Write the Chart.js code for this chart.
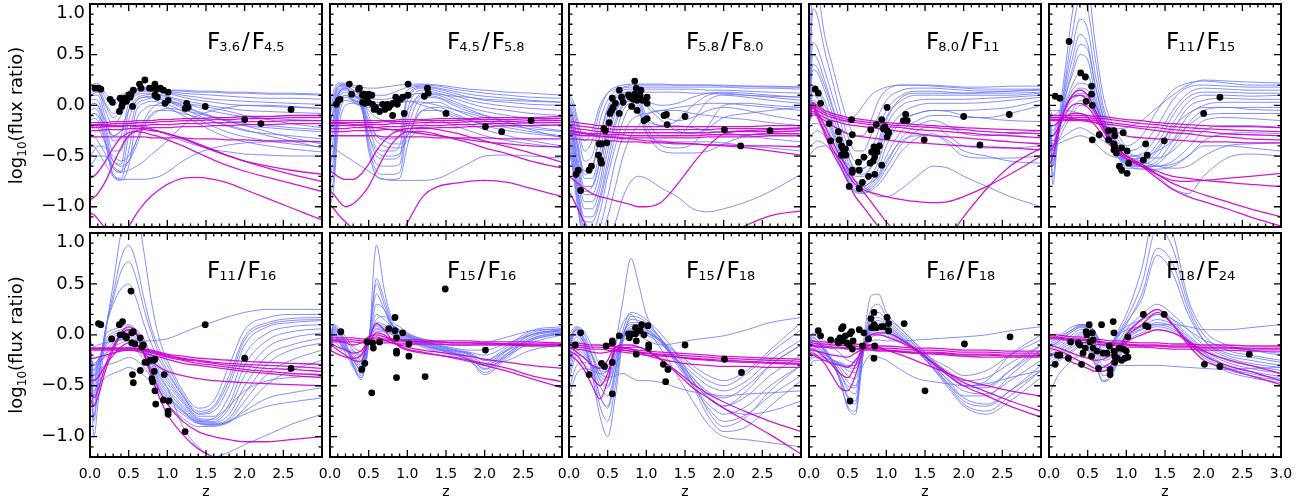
<!DOCTYPE html>
<html>
<head>
<meta charset="utf-8">
<script src="https://cdn.jsdelivr.net/npm/chart.js@4/dist/chart.umd.min.js"></script>
<style>
  html, body { margin: 0; padding: 0; background: #fff; }
  #wrap { position: relative; width: 1306px; height: 503px; overflow: hidden; }
  #wrap canvas { position: absolute; left: 0; top: 0; }
</style>
</head>
<body>
<div id="wrap"></div>
<script>
// redshift grid the model tracks are sampled on
const zGrid = [0, 0.05, 0.1, 0.2, 0.3, 0.4, 0.5, 0.6, 0.7, 0.8, 0.9, 1.0, 1.2, 1.4, 1.6, 1.8, 2.0, 2.3, 2.6, 3.0];
const xTicks = [0, 0.5, 1, 1.5, 2, 2.5, 3];
const yTicks = [-1, -0.5, 0, 0.5, 1];

// ---- F3.6/F4.5
const p1Blue = [
  [.20,.21,.22,.12,.05,.10,.14,.16,.17,.17,.16,.15,.14,.13,.13,.12,.12,.11,.11,.10],
  [.18,.19,.20,.08,.0,.06,.12,.15,.16,.16,.15,.14,.12,.11,.10,.09,.08,.07,.07,.06],
  [.15,.17,.18,.02,-.08,.0,.10,.14,.15,.15,.14,.13,.10,.08,.06,.05,.04,.03,.02,.01],
  [.12,.14,.15,-.05,-.2,-.1,.06,.12,.14,.14,.13,.12,.08,.05,.03,.01,.0,-.01,-.02,-.03],
  [.08,.10,.10,-.12,-.35,-.3,.02,.10,.12,.12,.11,.09,.05,.02,-.01,-.03,-.05,-.06,-.07,-.08],
  [.05,.06,.05,-.2,-.45,-.45,-.05,.07,.10,.11,.10,.08,.03,-.02,-.06,-.09,-.11,-.13,-.14,-.15],
  [.0,.02,.0,-.25,-.55,-.58,-.15,.04,.08,.09,.08,.06,.0,-.06,-.11,-.15,-.18,-.2,-.22,-.24],
  [-.05,-.03,-.05,-.3,-.62,-.66,-.3,.0,.05,.07,.06,.04,-.03,-.1,-.16,-.21,-.25,-.28,-.3,-.33],
  [-.1,-.08,-.1,-.35,-.68,-.72,-.45,-.05,.02,.04,.03,.01,-.06,-.14,-.21,-.27,-.31,-.35,-.38,-.41],
  [-.15,-.13,-.15,-.38,-.7,-.74,-.6,-.15,-.04,.0,.0,-.02,-.1,-.18,-.26,-.32,-.36,-.4,-.43,-.46],
  [-.2,-.2,-.22,-.38,-.55,-.6,-.55,-.4,-.2,-.08,-.05,-.05,-.08,-.12,-.16,-.2,-.24,-.3,-.35,-.42],
  [-.28,-.3,-.35,-.48,-.62,-.66,-.64,-.6,-.55,-.48,-.42,-.35,-.2,-.1,-.05,-.02,.0,.0,-.01,-.03],
  [-.38,-.4,-.45,-.58,-.7,-.73,-.73,-.73,-.73,-.72,-.7,-.66,-.55,-.47,-.42,-.39,-.37,-.36,-.36,-.36],
  [-.6,-.55,-.5,-.5,-.6,-.65,-.55,-.35,-.15,-.03,.02,.03,.02,.0,-.03,-.06,-.1,-.14,-.18,-.22],
  [.1,.12,.13,.0,-.12,-.05,.1,.16,.18,.17,.16,.15,.15,.14,.14,.13,.13,.12,.12,.11],
  [-.1,-.08,-.1,-.2,-.3,-.25,-.05,.05,.08,.08,.06,.04,-.01,-.07,-.12,-.16,-.2,-.22,-.24,-.26],
  [.0,.02,.0,-.15,-.3,-.25,-.18,-.18,-.2,-.23,-.26,-.29,-.35,-.4,-.44,-.46,-.48,-.49,-.5,-.5],
  [-.5,-.45,-.4,-.42,-.5,-.55,-.5,-.35,-.2,-.1,-.05,-.03,-.05,-.08,-.12,-.16,-.2,-.26,-.32,-.38]
];
const p1Magenta = [
  [-.17,-.17,-.17,-.17,-.16,-.16,-.16,-.15,-.15,-.15,-.14,-.14,-.13,-.13,-.12,-.12,-.11,-.11,-.1,-.1],
  [-.19,-.19,-.19,-.19,-.18,-.18,-.18,-.17,-.17,-.17,-.16,-.16,-.15,-.15,-.14,-.14,-.13,-.13,-.12,-.12],
  [-.22,-.22,-.22,-.21,-.21,-.21,-.2,-.2,-.2,-.19,-.19,-.19,-.18,-.18,-.17,-.17,-.16,-.16,-.15,-.15],
  [-.25,-.25,-.25,-.24,-.24,-.24,-.23,-.23,-.23,-.22,-.22,-.22,-.21,-.21,-.2,-.2,-.19,-.19,-.18,-.18],
  [-.31,-.31,-.31,-.31,-.31,-.31,-.31,-.31,-.31,-.32,-.32,-.32,-.32,-.33,-.33,-.34,-.34,-.35,-.35,-.36],
  [-.2,-.2,-.2,-.2,-.2,-.2,-.2,-.21,-.22,-.24,-.26,-.28,-.32,-.38,-.44,-.5,-.55,-.62,-.68,-.75],
  [-.72,-.7,-.66,-.55,-.42,-.32,-.27,-.26,-.27,-.29,-.31,-.34,-.4,-.47,-.54,-.6,-.65,-.71,-.77,-.85],
  [-.93,-.91,-.87,-.75,-.58,-.42,-.3,-.25,-.24,-.25,-.26,-.28,-.33,-.39,-.45,-.5,-.55,-.6,-.64,-.68],
  [-1.5,-1.5,-1.5,-1.5,-1.45,-1.35,-1.2,-1.07,-.97,-.89,-.83,-.78,-.72,-.71,-.73,-.77,-.83,-.92,-1.01,-1.13],
  [-1.06,-1.08,-1.12,-1.22,-1.35,-1.45,-1.5,-1.5,-1.5,-1.5,-1.5,-1.5,-1.5,-1.5,-1.5,-1.5,-1.5,-1.5,-1.5,-1.5]
];
const p1ObsZ = [.065,.11,.14,.26,.29,.38,.41,.42,.39,.45,.47,.5,.52,.53,.55,.56,.64,.66,.71,.77,.8,.84,.86,.84,.87,.91,.95,.97,1.01,1.01,1.23,1.25,1.27,1.49,2.0,2.21,2.6];
const p1ObsV = [.17,.17,.16,.06,.03,-.06,-.01,.02,.07,.07,.04,.1,.08,.11,-.01,.15,.21,.17,.25,.17,.17,.21,.16,.1,.08,.17,.15,.02,.13,.05,-.03,.02,-.02,-.01,-.14,-.18,-.04];

// ---- F4.5/F5.8
const p2Blue = [
  [.02,.15,.22,.22,.2,.18,.17,.17,.18,.19,.2,.21,.21,.2,.18,.16,.15,.13,.12,.1],
  [-.05,.1,.2,.21,.18,.15,.12,.1,.1,.12,.15,.18,.2,.19,.16,.14,.12,.1,.08,.07],
  [-.1,.05,.18,.2,.15,.1,.05,.03,.02,.03,.06,.15,.19,.17,.14,.11,.09,.07,.05,.03],
  [-.2,-.02,.15,.19,.12,.08,-.1,-.3,-.33,-.33,-.3,.1,.18,.16,.12,.08,.05,.03,.01,.0],
  [-.3,-.1,.12,.18,.1,.06,-.2,-.42,-.45,-.45,-.4,.05,.17,.14,.1,.05,.02,-.01,-.03,-.05],
  [-.4,-.2,.08,.17,.1,.05,-.28,-.5,-.53,-.53,-.5,-.05,.15,.12,.07,.02,-.02,-.05,-.08,-.1],
  [-.5,-.3,.05,.15,.08,.03,-.35,-.58,-.6,-.6,-.58,-.15,.12,.1,.04,-.02,-.06,-.1,-.13,-.15],
  [-.6,-.4,.0,.13,.06,.01,-.4,-.65,-.68,-.68,-.66,-.25,.08,.07,.0,-.06,-.1,-.15,-.18,-.2],
  [-.7,-.5,-.05,.1,.05,.0,-.45,-.7,-.73,-.73,-.72,-.4,.02,.03,-.04,-.1,-.15,-.2,-.23,-.26],
  [-.8,-.6,-.1,.08,.04,-.02,-.3,-.45,-.5,-.5,-.48,-.3,-.05,-.02,-.08,-.14,-.2,-.25,-.28,-.31],
  [-.9,-.7,-.2,.05,.03,.0,-.02,.0,.0,.0,.02,.04,.0,-.05,-.12,-.18,-.24,-.3,-.35,-.4],
  [-1.0,-.8,-.3,.0,.02,.0,.0,.01,.01,.02,.03,.04,.03,.0,-.04,-.08,-.12,-.17,-.21,-.25],
  [-.15,-.05,.1,.16,.1,.05,-.15,-.3,-.35,-.38,-.38,-.3,-.05,-.05,-.1,-.15,-.18,-.22,-.26,-.3],
  [-.4,-.42,-.45,-.5,-.55,-.6,-.65,-.7,-.73,-.74,-.74,-.74,-.74,-.72,-.65,-.57,-.5,-.49,-.5,-.52],
  [-.08,.05,.18,.2,.15,.12,.08,.06,.06,.07,.08,.1,.12,.11,.09,.08,.06,.05,.04,.03],
  [-.25,-.15,.1,.17,.1,.05,-.05,-.12,-.15,-.17,-.15,-.05,.1,.08,.02,-.04,-.1,-.17,-.24,-.32],
  [-.55,-.45,-.1,.1,.05,.0,-.2,-.35,-.4,-.42,-.42,-.35,-.2,-.15,-.2,-.25,-.3,-.35,-.38,-.42]
];
const p2Magenta = [
  [-.15,-.15,-.15,-.15,-.15,-.15,-.15,-.15,-.15,-.15,-.14,-.14,-.14,-.13,-.13,-.13,-.12,-.12,-.12,-.11],
  [-.17,-.17,-.17,-.17,-.17,-.17,-.17,-.17,-.16,-.16,-.16,-.16,-.15,-.15,-.15,-.14,-.14,-.14,-.13,-.13],
  [-.2,-.2,-.2,-.2,-.2,-.19,-.19,-.19,-.19,-.18,-.18,-.18,-.17,-.17,-.17,-.16,-.16,-.16,-.15,-.15],
  [-.23,-.23,-.23,-.23,-.22,-.22,-.22,-.22,-.21,-.21,-.21,-.2,-.2,-.2,-.19,-.19,-.18,-.18,-.17,-.17],
  [-.26,-.26,-.26,-.26,-.25,-.25,-.25,-.25,-.24,-.24,-.24,-.23,-.23,-.22,-.22,-.21,-.21,-.2,-.2,-.19],
  [-.3,-.3,-.3,-.3,-.3,-.3,-.3,-.3,-.31,-.31,-.31,-.31,-.31,-.32,-.32,-.32,-.32,-.33,-.33,-.33],
  [-.18,-.18,-.18,-.18,-.19,-.2,-.21,-.22,-.23,-.24,-.25,-.26,-.28,-.3,-.32,-.34,-.36,-.38,-.4,-.41],
  [-.65,-.67,-.7,-.73,-.73,-.68,-.58,-.45,-.35,-.28,-.25,-.23,-.22,-.24,-.27,-.31,-.35,-.41,-.47,-.56],
  [-.85,-.88,-.93,-1.0,-.97,-.9,-.8,-.65,-.5,-.38,-.3,-.26,-.26,-.29,-.33,-.37,-.42,-.48,-.55,-.62],
  [-.98,-1.02,-1.07,-1.15,-1.22,-1.3,-1.4,-1.45,-1.45,-1.4,-1.3,-1.16,-.9,-.8,-.77,-.75,-.74,-.76,-.82,-.9]
];
const p2ObsZ = [.08,.11,.13,.25,.28,.37,.38,.42,.44,.46,.48,.5,.54,.42,.45,.5,.55,.57,.59,.64,.68,.71,.74,.76,.78,.81,.81,.85,.85,.87,.91,.94,.96,1.01,1.01,1.22,1.26,1.27,1.5,2.01,2.22,2.6];
const p2ObsV = [.01,.05,.06,.21,.11,.16,.17,.1,.11,.09,.08,.11,.1,.03,.02,.03,.01,-.04,-.02,-.06,.01,-.04,.01,-.02,0,-.1,.02,.08,.03,.01,.06,.08,-.08,.21,.1,.09,.17,.12,-.08,-.21,-.26,-.15];

// ---- F5.8/F8.0
const p3Blue = [
  [.08,.0,-.15,-.45,-.35,-.05,.12,.18,.2,.21,.2,.2,.2,.2,.2,.2,.2,.19,.19,.18],
  [.05,-.05,-.2,-.55,-.5,-.15,.05,.14,.17,.18,.18,.18,.18,.18,.18,.18,.18,.17,.17,.16],
  [.02,-.1,-.3,-.65,-.62,-.3,-.02,.1,.15,.16,.16,.16,.16,.16,.16,.15,.15,.14,.13,.12],
  [-.02,-.15,-.38,-.72,-.72,-.45,-.1,.06,.12,.14,.14,.13,.13,.13,.12,.12,.11,.1,.09,.08],
  [-.05,-.2,-.45,-.8,-.8,-.55,-.18,.02,.1,.12,.12,.05,.0,.02,.08,.12,.13,.12,.1,.08],
  [-.08,-.25,-.5,-.88,-.88,-.65,-.25,-.02,.08,.1,.08,-.1,-.2,-.15,.0,.1,.12,.1,.08,.05],
  [-.12,-.3,-.58,-.95,-.95,-.75,-.35,-.08,.05,.08,.05,-.15,-.3,-.3,-.15,.05,.1,.08,.05,.02],
  [-.15,-.35,-.65,-1.02,-1.02,-.82,-.45,-.15,.02,.06,.02,-.2,-.4,-.42,-.38,-.2,.0,.02,.0,-.02],
  [-.2,-.4,-.72,-1.1,-1.1,-.9,-.55,-.2,.0,.04,-.02,-.25,-.45,-.47,-.47,-.45,-.38,-.3,-.27,-.25],
  [-.25,-.45,-.78,-1.15,-1.15,-.95,-.62,-.3,-.05,.02,-.05,-.28,-.35,-.36,-.36,-.36,-.37,-.4,-.42,-.45],
  [-.3,-.5,-.8,-1.2,-1.25,-1.05,-.7,-.4,-.15,-.02,-.08,-.15,-.2,-.2,-.22,-.25,-.27,-.3,-.33,-.36],
  [-.35,-.55,-.85,-1.25,-1.3,-1.2,-.9,-.55,-.3,-.15,-.1,-.08,-.05,-.02,.0,.02,.02,.0,-.02,-.05],
  [-.4,-.6,-.9,-1.3,-1.3,-1.3,-1.1,-.8,-.5,-.3,-.2,-.1,-.05,-.05,-.08,-.1,-.12,-.14,-.17,-.2],
  [-.45,-.65,-.95,-1.3,-1.3,-1.3,-1.3,-1.15,-.9,-.75,-.7,-.72,-.82,-.9,-1.02,-1.05,-1.02,-.95,-.85,-.68],
  [.1,.05,-.1,-.35,-.25,.0,.12,.16,.18,.2,.21,.21,.21,.2,.2,.2,.19,.19,.18,.18],
  [-.15,-.3,-.55,-.85,-.8,-.55,-.25,-.05,.05,.08,.1,.02,-.1,-.15,-.12,-.05,-.02,-.05,-.1,-.15],
  [.0,-.12,-.35,-.68,-.6,-.3,-.05,.08,.12,.13,.12,.0,-.15,-.25,-.28,-.22,-.12,-.08,-.05,-.02]
];
const p3Magenta = [
  [-.16,-.16,-.17,-.18,-.19,-.2,-.2,-.21,-.21,-.21,-.21,-.21,-.21,-.21,-.21,-.21,-.21,-.21,-.2,-.2],
  [-.19,-.19,-.2,-.21,-.22,-.23,-.23,-.24,-.24,-.24,-.24,-.24,-.24,-.24,-.24,-.24,-.23,-.23,-.23,-.22],
  [-.22,-.22,-.23,-.24,-.25,-.26,-.26,-.27,-.27,-.27,-.27,-.27,-.27,-.27,-.27,-.27,-.26,-.26,-.26,-.25],
  [-.25,-.25,-.26,-.27,-.28,-.28,-.29,-.29,-.29,-.3,-.3,-.3,-.3,-.3,-.3,-.29,-.29,-.29,-.28,-.28],
  [-.28,-.28,-.29,-.3,-.3,-.31,-.31,-.31,-.32,-.32,-.32,-.32,-.32,-.32,-.32,-.31,-.31,-.31,-.3,-.3],
  [-.26,-.26,-.27,-.28,-.29,-.3,-.31,-.32,-.33,-.33,-.34,-.35,-.36,-.37,-.38,-.39,-.4,-.42,-.45,-.49],
  [-.33,-.33,-.33,-.34,-.34,-.35,-.35,-.35,-.36,-.36,-.36,-.37,-.37,-.38,-.38,-.39,-.39,-.4,-.4,-.41],
  [-.7,-.73,-.76,-.82,-.87,-.9,-.92,-.94,-.96,-.98,-1.0,-1.0,-.95,-.78,-.58,-.4,-.28,-.25,-.24,-.23],
  [-.85,-.92,-1.0,-1.15,-1.3,-1.4,-1.45,-1.5,-1.5,-1.5,-1.5,-1.5,-1.5,-1.5,-1.5,-1.45,-1.3,-1.18,-1.09,-1.04]
];
const p3ObsZ = [.09,.12,.15,.26,.29,.38,.41,.42,.39,.42,.45,.47,.49,.52,.53,.55,.56,.57,.6,.65,.65,.68,.7,.77,.79,.81,.83,.85,.85,.87,.88,.88,.92,.93,.95,.97,1.01,1.01,1.01,1.23,1.26,1.27,1.5,2.01,2.22,2.6];
const p3ObsV = [-.68,-.64,-.84,-.64,-.6,-.49,-.54,-.57,-.38,-.38,-.23,-.25,-.37,-.17,-.08,-.05,.07,-.02,.02,.15,-.08,.08,.03,.1,.08,-.01,.06,.24,.11,.17,.05,-.05,.1,.15,.05,-.15,.08,.02,-.13,-.1,-.09,-.19,-.11,-.24,-.4,-.25];

// ---- F8.0/F11
const p4Blue = [
  [.05,1.3,1.2,.7,.4,.1,-.15,-.3,-.3,-.15,.05,.15,.2,.2,.19,.18,.17,.16,.16,.16],
  [.0,.95,.9,.55,.25,-.05,-.3,-.45,-.45,-.3,-.1,.05,.15,.17,.17,.16,.15,.14,.14,.15],
  [-.03,.62,.58,.35,.1,-.15,-.4,-.55,-.55,-.45,-.25,-.05,.1,.14,.14,.13,.12,.12,.12,.13],
  [-.05,.5,.47,.25,.0,-.25,-.48,-.62,-.62,-.55,-.35,-.12,.05,.1,.1,.1,.1,.1,.1,.12],
  [-.08,.35,.33,.15,-.08,-.32,-.55,-.7,-.7,-.62,-.45,-.2,.0,.05,.06,.06,.06,.07,.08,.1],
  [-.1,.2,.18,.05,-.15,-.38,-.6,-.75,-.76,-.7,-.55,-.3,-.08,.0,.02,.02,.02,.03,.05,.08],
  [-.12,.1,.08,-.05,-.22,-.43,-.65,-.8,-.8,-.75,-.62,-.4,-.15,-.08,-.05,-.05,-.05,-.04,-.02,.05],
  [-.15,.0,-.02,-.12,-.28,-.48,-.7,-.82,-.83,-.78,-.68,-.5,-.25,-.15,-.1,-.1,-.12,-.12,-.08,.0],
  [-.18,-.1,-.1,-.18,-.33,-.52,-.72,-.84,-.85,-.8,-.72,-.58,-.32,-.2,-.15,-.2,-.28,-.3,-.28,-.25],
  [-.22,-.18,-.18,-.24,-.38,-.55,-.74,-.85,-.86,-.82,-.75,-.62,-.38,-.25,-.2,-.3,-.4,-.42,-.42,-.4],
  [-.3,-.28,-.25,-.3,-.42,-.58,-.75,-.86,-.87,-.84,-.78,-.68,-.45,-.32,-.28,-.38,-.5,-.52,-.52,-.5],
  [-.4,-.38,-.35,-.38,-.45,-.55,-.65,-.75,-.8,-.85,-.9,-.9,-.82,-.7,-.6,-.62,-.7,-.8,-.9,-1.0],
  [-.1,.15,.15,.0,-.1,-.15,-.15,-.1,.0,.1,.15,.18,.2,.2,.2,.19,.18,.18,.19,.19],
  [-.5,-.45,-.42,-.4,-.45,-.52,-.58,-.62,-.62,-.55,-.42,-.3,-.15,-.08,-.05,-.06,-.1,-.13,-.15,-.16],
  [.08,.4,.38,.2,-.02,-.25,-.5,-.65,-.68,-.6,-.4,-.15,.08,.12,.12,.12,.12,.13,.14,.16],
  [-.08,.05,.03,-.08,-.25,-.45,-.65,-.78,-.8,-.76,-.7,-.55,-.35,-.3,-.3,-.35,-.45,-.5,-.55,-.57]
];
const p4Magenta = [
  [-.08,.03,.0,-.05,-.08,-.1,-.12,-.13,-.14,-.15,-.16,-.17,-.18,-.19,-.2,-.21,-.22,-.23,-.24,-.25],
  [-.1,.0,-.02,-.07,-.1,-.12,-.14,-.15,-.16,-.17,-.18,-.19,-.2,-.21,-.22,-.23,-.24,-.26,-.27,-.28],
  [-.12,-.03,-.05,-.09,-.12,-.14,-.16,-.17,-.18,-.19,-.2,-.21,-.22,-.24,-.25,-.26,-.27,-.29,-.3,-.32],
  [-.14,-.06,-.08,-.12,-.15,-.17,-.19,-.2,-.21,-.22,-.23,-.24,-.26,-.28,-.3,-.31,-.32,-.34,-.36,-.38],
  [-.15,-.08,-.1,-.15,-.2,-.24,-.28,-.3,-.31,-.32,-.33,-.34,-.36,-.37,-.38,-.39,-.4,-.41,-.42,-.44],
  [-.1,.02,-.05,-.2,-.35,-.5,-.62,-.75,-.85,-.95,-1.05,-1.15,-1.3,-1.4,-1.45,-1.5,-1.5,-1.5,-1.5,-1.5],
  [-.12,.0,-.08,-.25,-.42,-.55,-.68,-.78,-.83,-.86,-.88,-.9,-.93,-.95,-.96,-.95,-.9,-.8,-.68,-.5],
  [-.14,-.02,-.1,-.28,-.46,-.6,-.75,-.9,-1.0,-1.1,-1.2,-1.3,-1.4,-1.45,-1.4,-1.3,-1.1,-.82,-.6,-.42]
];
const p4ObsZ = [.08,.12,.15,.26,.28,.38,.39,.42,.44,.42,.45,.48,.47,.52,.52,.55,.56,.56,.56,.64,.65,.65,.69,.71,.77,.79,.8,.81,.83,.84,.85,.85,.87,.88,.91,.94,.94,.96,.98,1.01,1.01,1.01,1.03,1.22,1.25,1.27,1.49,2.0,2.21,2.59];
const p4ObsV = [.16,.12,.02,-.18,-.35,-.26,-.34,-.4,-.43,-.49,-.49,-.49,-.43,-.37,-.8,-.14,-.29,-.64,-.66,-.56,-.82,-.64,-.76,-.51,-.7,-.57,-.24,-.46,-.55,-.41,-.51,-.68,-.19,-.46,-.4,-.14,-.59,-.23,-.21,-.02,-.25,-.31,-.27,-.15,-.09,-.15,-.34,-.11,-.39,-.09];

// ---- F11/F15
const p5Blue = [
  [.02,-.6,-.3,.3,.9,1.3,1.2,.6,.1,-.15,-.3,-.4,-.3,-.05,.15,.22,.24,.22,.2,.2],
  [.0,-.7,-.4,.2,.7,1.05,.95,.45,.0,-.2,-.35,-.45,-.4,-.2,.05,.18,.2,.19,.18,.18],
  [-.02,-.78,-.45,.15,.55,.85,.75,.3,-.05,-.25,-.4,-.5,-.48,-.3,-.05,.12,.17,.16,.15,.15],
  [-.05,-.6,-.35,.1,.45,.7,.6,.2,-.1,-.3,-.43,-.53,-.52,-.38,-.1,.08,.13,.13,.12,.12],
  [-.08,-.5,-.3,.05,.3,.5,.45,.1,-.15,-.33,-.46,-.56,-.56,-.45,-.18,.03,.1,.1,.09,.1],
  [-.1,-.4,-.25,.0,.2,.32,.3,.05,-.18,-.36,-.48,-.58,-.58,-.5,-.25,-.02,.05,.07,.06,.06],
  [-.12,-.3,-.2,-.02,.15,.22,.2,.02,-.2,-.38,-.5,-.6,-.6,-.55,-.35,-.1,.0,.03,.03,.03],
  [-.15,-.25,-.18,-.05,.1,.17,.15,.0,-.22,-.4,-.52,-.62,-.62,-.58,-.42,-.18,-.05,-.02,-.02,-.02],
  [.0,-.1,-.08,.0,.08,.12,.1,.0,-.15,-.3,-.42,-.5,-.5,-.45,-.35,-.2,-.1,-.08,-.08,-.08],
  [-.05,-.15,-.12,-.05,.05,.1,.08,-.02,-.15,-.28,-.38,-.45,-.52,-.52,-.45,-.3,-.15,-.12,-.13,-.15],
  [-.2,-.35,-.3,-.18,-.05,.05,.05,-.05,-.18,-.32,-.45,-.55,-.6,-.6,-.55,-.42,-.25,-.2,-.2,-.22],
  [-.25,-.45,-.38,-.22,-.1,.0,.0,-.1,-.22,-.35,-.48,-.58,-.63,-.63,-.6,-.5,-.35,-.28,-.27,-.28],
  [-.3,-.35,-.35,-.3,-.25,-.22,-.25,-.3,-.35,-.4,-.45,-.5,-.55,-.6,-.62,-.6,-.5,-.4,-.38,-.37],
  [-.35,-.38,-.38,-.35,-.32,-.3,-.32,-.38,-.45,-.5,-.52,-.55,-.6,-.7,-.82,-.87,-.7,-.52,-.48,-.5],
  [-.05,-.05,-.05,-.05,-.06,-.08,-.1,-.15,-.2,-.22,-.23,-.22,-.15,-.02,.1,.2,.25,.24,.23,.22],
  [-.1,-.55,-.35,.05,.35,.6,.55,.18,-.12,-.32,-.45,-.55,-.55,-.42,-.22,-.08,-.02,-.02,-.04,-.05],
  [-.15,-.45,-.3,-.05,.1,.15,.1,-.05,-.22,-.38,-.5,-.58,-.6,-.6,-.58,-.5,-.4,-.4,-.42,-.45]
];
const p5Magenta = [
  [-.1,-.1,-.1,-.1,-.1,-.1,-.1,-.11,-.11,-.12,-.13,-.14,-.15,-.17,-.18,-.19,-.2,-.21,-.21,-.22],
  [-.12,-.12,-.12,-.12,-.12,-.12,-.12,-.13,-.13,-.14,-.15,-.16,-.18,-.19,-.21,-.22,-.23,-.24,-.25,-.26],
  [-.14,-.14,-.14,-.14,-.14,-.14,-.14,-.15,-.16,-.17,-.18,-.19,-.21,-.22,-.24,-.25,-.26,-.28,-.29,-.3],
  [-.15,-.15,-.15,-.15,-.15,-.15,-.16,-.17,-.18,-.19,-.2,-.21,-.23,-.25,-.27,-.28,-.3,-.31,-.33,-.34],
  [-.12,-.12,-.12,-.12,-.13,-.14,-.15,-.17,-.2,-.24,-.27,-.3,-.32,-.33,-.34,-.35,-.36,-.36,-.37,-.37],
  [-.6,-.5,-.35,-.05,.1,.15,.1,-.05,-.2,-.33,-.43,-.5,-.6,-.72,-.83,-.9,-.95,-1.02,-1.1,-1.19],
  [-.45,-.42,-.3,-.05,.08,.1,.05,-.08,-.22,-.35,-.44,-.5,-.58,-.68,-.77,-.83,-.88,-.95,-1.02,-1.1],
  [-.3,-.3,-.25,-.1,.0,.02,-.02,-.12,-.25,-.37,-.46,-.52,-.6,-.68,-.74,-.75,-.74,-.72,-.7,-.67],
  [-.2,-.2,-.18,-.12,-.08,-.08,-.12,-.2,-.3,-.4,-.48,-.53,-.6,-.65,-.7,-.72,-.74,-.76,-.78,-.8]
];
const p5ObsZ = [.08,.14,.26,.41,.47,.55,.55,.48,.56,.56,.65,.77,.77,.84,.85,.84,.85,.84,.87,.91,.94,.94,.96,1.01,1.01,1.03,1.22,1.25,1.27,1.49,2.0,2.21];
const p5ObsV = [.09,.07,.63,.32,.28,.19,.11,.04,0,-.34,-.29,-.25,-.34,-.25,-.3,-.38,-.41,-.44,-.47,-.6,-.64,-.42,-.27,-.45,-.67,-.57,-.54,-.38,-.49,-.35,-.08,.08];

// ---- F11/F16
const p6Blue = [
  [.03,-1.0,-.7,.0,.5,1.0,1.3,1.25,.8,.3,-.05,-.25,-.55,-.72,-.65,-.3,.05,.17,.2,.2],
  [.0,-.85,-.55,.05,.4,.75,.88,.7,.35,.05,-.15,-.3,-.58,-.75,-.7,-.4,-.02,.12,.16,.17],
  [-.02,-.7,-.45,.05,.35,.62,.72,.55,.25,.0,-.2,-.35,-.6,-.78,-.75,-.5,-.1,.08,.12,.14],
  [-.05,-.6,-.38,.0,.05,.08,.1,.05,-.05,-.2,-.3,-.42,-.63,-.8,-.8,-.6,-.2,.02,.08,.1],
  [-.08,-.5,-.32,-.05,.02,.05,.07,.02,-.08,-.22,-.35,-.45,-.65,-.82,-.83,-.68,-.3,-.05,.03,.06],
  [-.1,-.45,-.3,-.08,.0,.02,.04,.0,-.1,-.25,-.38,-.48,-.67,-.83,-.85,-.72,-.4,-.12,-.03,.02],
  [-.12,-.4,-.28,-.1,-.02,.0,.02,-.03,-.13,-.28,-.42,-.52,-.7,-.84,-.86,-.78,-.5,-.2,-.1,-.03],
  [-.15,-.35,-.25,-.12,-.05,-.03,.0,-.05,-.15,-.3,-.45,-.55,-.72,-.85,-.87,-.82,-.58,-.28,-.15,-.08],
  [-.18,-.3,-.25,-.15,-.08,-.05,-.02,-.08,-.18,-.33,-.47,-.58,-.74,-.86,-.88,-.84,-.65,-.38,-.25,-.15],
  [-.22,-.28,-.25,-.18,-.12,-.08,-.06,-.1,-.2,-.35,-.5,-.6,-.75,-.87,-.89,-.86,-.72,-.48,-.35,-.25],
  [-.28,-.3,-.28,-.22,-.18,-.15,-.12,-.15,-.25,-.38,-.52,-.62,-.76,-.85,-.82,-.7,-.55,-.45,-.42,-.4],
  [-.35,-.4,-.36,-.3,-.28,-.25,-.22,-.25,-.32,-.43,-.55,-.65,-.78,-.87,-.88,-.85,-.75,-.62,-.57,-.52],
  [-.5,-.55,-.5,-.42,-.38,-.35,-.32,-.35,-.4,-.48,-.58,-.68,-.82,-.9,-.9,-.85,-.78,-.7,-.66,-.62],
  [-.05,-.12,-.1,-.08,-.06,-.05,-.05,-.05,-.06,-.06,-.05,-.04,.02,.08,.13,.18,.22,.25,.25,.25],
  [-.25,-.35,-.3,-.2,-.1,.0,.05,.02,-.1,-.25,-.4,-.52,-.9,-1.1,-1.2,-1.15,-1.08,-.98,-.88,-.78],
  [-.02,-.8,-.5,.05,.3,.45,.5,.35,.1,-.1,-.25,-.38,-.6,-.77,-.72,-.45,-.05,.1,.14,.15]
];
const p6Magenta = [
  [-.13,-.13,-.13,-.13,-.13,-.13,-.13,-.13,-.14,-.15,-.17,-.19,-.21,-.23,-.24,-.25,-.26,-.27,-.28,-.29],
  [-.13,-.13,-.13,-.13,-.13,-.13,-.13,-.14,-.15,-.16,-.18,-.2,-.23,-.25,-.27,-.28,-.29,-.3,-.31,-.33],
  [-.14,-.14,-.14,-.14,-.14,-.14,-.14,-.14,-.15,-.17,-.19,-.21,-.24,-.26,-.28,-.3,-.31,-.33,-.34,-.36],
  [-.15,-.15,-.15,-.15,-.15,-.15,-.15,-.15,-.16,-.18,-.2,-.22,-.25,-.28,-.3,-.32,-.34,-.36,-.38,-.39],
  [-.23,-.23,-.22,-.2,-.18,-.16,-.15,-.16,-.18,-.2,-.22,-.24,-.28,-.3,-.32,-.34,-.36,-.38,-.4,-.42],
  [-.44,-.45,-.42,-.3,-.2,-.12,-.08,-.1,-.18,-.26,-.32,-.36,-.4,-.43,-.45,-.46,-.47,-.48,-.49,-.5],
  [-.62,-.7,-.62,-.35,-.15,.0,.05,.0,-.18,-.38,-.55,-.68,-.85,-.95,-1.0,-1.03,-1.05,-1.05,-1.03,-1.0],
  [-.55,-.62,-.55,-.3,-.12,.02,.08,.02,-.2,-.42,-.62,-.78,-.98,-1.12,-1.2,-1.28,-1.3,-1.35,-1.4,-1.4]
];
const p6ObsZ = [.11,.14,.28,.38,.42,.39,.42,.45,.47,.53,.54,.56,.47,.54,.56,.55,.58,.65,.65,.67,.69,.71,.74,.78,.8,.81,.82,.84,.83,.84,.85,.96,.95,1.01,1.01,1.02,1.23,1.49,2.0,2.6];
const p6ObsV = [.11,.1,-.04,.1,.13,0,0,-.01,-.02,.43,.02,.03,-.03,-.08,-.47,-.39,-.09,-.03,-.35,-.12,-.1,-.27,-.27,-.25,-.43,-.46,-.25,-.24,-.36,-.55,-.68,-.39,-.64,-.75,-.78,-.65,-.95,.1,-.23,-.33];

// ---- F15/F16
const p7Blue = [
  [-.05,.08,.05,-.08,-.3,-.42,-.1,.88,.45,.15,.08,.02,-.05,-.1,-.14,-.17,-.2,-.1,.04,.08],
  [-.08,.06,.03,-.1,-.3,-.4,-.08,.55,.35,.12,.05,.0,-.06,-.11,-.15,-.18,-.25,-.12,.02,.06],
  [-.1,.05,.02,-.12,-.28,-.38,-.06,.5,.3,.1,.04,-.01,-.07,-.12,-.16,-.2,-.3,-.15,.0,.05],
  [-.12,.04,.0,-.13,-.25,-.35,-.05,.12,.1,.05,.02,-.02,-.08,-.13,-.17,-.22,-.34,-.18,-.02,.04],
  [-.14,.03,-.02,-.14,-.23,-.32,-.05,.1,.08,.04,.0,-.03,-.09,-.14,-.18,-.24,-.37,-.2,-.04,.03],
  [-.16,.02,-.03,-.15,-.2,-.28,-.04,.08,.06,.03,-.01,-.04,-.1,-.15,-.19,-.25,-.39,-.22,-.06,.02],
  [-.18,.0,-.05,-.15,-.18,-.25,-.05,.06,.05,.02,-.02,-.05,-.11,-.15,-.18,-.22,-.33,-.2,-.08,.0],
  [-.2,-.02,-.06,-.14,-.16,-.22,-.06,.05,.04,.01,-.03,-.06,-.1,-.14,-.16,-.18,-.25,-.15,-.05,.01],
  [.0,.1,.08,-.02,-.12,-.16,-.02,.15,.18,.1,.05,.01,-.04,-.08,-.1,-.1,-.08,-.02,.04,.06],
  [-.02,.09,.06,-.05,-.15,-.2,-.03,.2,.15,.08,.03,.0,-.06,-.1,-.13,-.15,-.15,-.08,.0,.04],
  [-.15,.0,-.05,-.18,-.32,-.44,-.1,.3,.25,.1,.02,-.02,-.08,-.13,-.18,-.24,-.3,-.18,-.04,.02],
  [-.2,-.05,-.1,-.15,-.22,-.3,-.1,.03,.03,.0,-.04,-.07,-.12,-.17,-.2,-.24,-.3,-.25,-.15,-.1],
  [-.06,.07,.04,-.08,-.24,-.34,-.04,.4,.25,.08,.03,-.01,-.06,-.11,-.15,-.19,-.28,-.14,.0,.05]
];
const p7Magenta = [
  [-.03,-.03,-.03,-.03,-.03,-.04,-.04,-.04,-.04,-.05,-.05,-.05,-.05,-.06,-.06,-.06,-.07,-.07,-.07,-.08],
  [-.05,-.05,-.05,-.05,-.05,-.06,-.06,-.06,-.06,-.06,-.07,-.07,-.07,-.07,-.08,-.08,-.08,-.09,-.09,-.09],
  [-.07,-.07,-.07,-.07,-.07,-.08,-.08,-.08,-.08,-.08,-.09,-.09,-.09,-.09,-.1,-.1,-.1,-.1,-.11,-.11],
  [-.04,-.05,-.06,-.08,-.1,-.08,-.02,.0,-.02,-.04,-.05,-.06,-.07,-.07,-.08,-.08,-.09,-.09,-.1,-.1],
  [-.1,-.12,-.15,-.2,-.25,-.26,-.05,.11,.05,-.05,-.12,-.15,-.18,-.2,-.23,-.26,-.3,-.36,-.43,-.52],
  [-.15,-.17,-.19,-.22,-.23,-.2,-.07,.02,.0,-.06,-.11,-.14,-.17,-.2,-.22,-.25,-.28,-.33,-.4,-.46],
  [-.08,-.1,-.12,-.15,-.18,-.16,-.06,-.02,-.05,-.08,-.1,-.12,-.15,-.17,-.19,-.21,-.24,-.27,-.3,-.33]
];
const p7ObsZ = [.14,.41,.45,.48,.55,.56,.54,.64,.76,.84,.84,.86,.86,.86,.86,.94,1.02,1.02,1.23,1.49,2.01];
const p7ObsV = [.03,-.34,-.28,-.07,-.08,-.13,-.57,-.07,.06,.17,.04,-.03,-.16,-.18,-.42,.02,-.09,-.21,-.41,.45,-.15];

// ---- F15/F18
const p8Blue = [
  [-.05,.03,.07,.0,-.2,-.4,-.45,-.1,.35,.75,.5,.2,-.05,-.25,-.45,-.62,-.7,-.55,-.3,-.1],
  [-.1,.02,.06,-.05,-.3,-.6,-.7,-.35,.05,.22,.2,.15,.0,-.2,-.45,-.75,-.9,-.8,-.55,-.3],
  [-.15,.0,.05,-.08,-.4,-.8,-1.0,-.6,-.05,.18,.17,.12,-.05,-.25,-.5,-.8,-.95,-.9,-.7,-.45],
  [-.2,-.03,.02,-.1,-.35,-.7,-.85,-.5,-.02,.15,.14,.1,-.06,-.27,-.5,-.72,-.85,-.78,-.6,-.4],
  [-.25,-.08,-.02,-.12,-.32,-.6,-.72,-.42,.0,.12,.12,.08,-.08,-.3,-.5,-.68,-.78,-.7,-.5,-.3],
  [-.3,-.12,-.06,-.15,-.3,-.5,-.6,-.35,.0,.1,.1,.06,-.08,-.28,-.46,-.62,-.7,-.6,-.4,-.2],
  [-.35,-.18,-.1,-.18,-.3,-.43,-.5,-.3,-.02,.08,.08,.05,-.08,-.26,-.42,-.56,-.62,-.5,-.3,-.1],
  [-.4,-.24,-.15,-.2,-.3,-.38,-.42,-.25,-.03,.06,.06,.03,-.08,-.24,-.38,-.5,-.55,-.45,-.25,-.05],
  [-.45,-.3,-.2,-.22,-.3,-.35,-.36,-.2,-.03,.05,.05,.02,-.07,-.2,-.34,-.45,-.5,-.38,-.18,.05],
  [-.55,-.4,-.3,-.27,-.3,-.32,-.3,-.17,-.04,.03,.04,.02,-.06,-.18,-.3,-.4,-.45,-.35,-.15,.12],
  [-.62,-.48,-.38,-.33,-.35,-.38,-.35,-.2,-.06,.0,.02,.0,-.1,-.25,-.42,-.6,-.72,-.78,-.75,-.65],
  [.0,.06,.08,.03,-.12,-.3,-.35,-.1,.12,.2,.12,.05,-.15,-.4,-.65,-.88,-1.0,-1.03,-1.06,-1.1],
  [-.12,-.02,.0,-.08,-.2,-.35,-.42,-.4,-.38,-.42,-.45,-.45,-.47,-.52,-.56,-.58,-.6,-.58,-.57,-.55],
  [-.08,.02,.04,-.04,-.22,-.45,-.52,-.25,.0,.02,.0,-.05,-.1,-.08,-.05,-.03,-.01,.05,.12,.17]
];
const p8Magenta = [
  [-.08,-.08,-.08,-.09,-.1,-.1,-.11,-.12,-.13,-.14,-.15,-.16,-.17,-.18,-.19,-.2,-.21,-.22,-.23,-.24],
  [-.1,-.1,-.1,-.11,-.12,-.12,-.13,-.14,-.15,-.16,-.17,-.18,-.19,-.2,-.21,-.22,-.23,-.24,-.25,-.26],
  [-.12,-.12,-.12,-.13,-.14,-.14,-.15,-.16,-.17,-.18,-.19,-.2,-.21,-.22,-.23,-.24,-.25,-.26,-.27,-.28],
  [-.13,-.13,-.14,-.15,-.17,-.18,-.17,-.15,-.15,-.16,-.17,-.18,-.2,-.22,-.24,-.25,-.26,-.27,-.28,-.29],
  [-.2,-.22,-.25,-.35,-.5,-.63,-.45,-.15,-.13,-.12,-.12,-.15,-.25,-.38,-.52,-.62,-.72,-.85,-.98,-1.17],
  [-.16,-.18,-.2,-.3,-.42,-.5,-.38,-.12,-.1,-.1,-.12,-.15,-.25,-.36,-.48,-.58,-.66,-.76,-.85,-.95],
  [-.12,-.14,-.17,-.23,-.3,-.33,-.25,-.12,-.12,-.14,-.17,-.2,-.24,-.27,-.29,-.3,-.31,-.31,-.32,-.32]
];
const p8ObsZ = [.08,.15,.26,.42,.46,.48,.56,.56,.56,.56,.65,.77,.78,.81,.86,.86,.87,.87,.92,.94,.97,1.02,1.03,1.03,1.22,1.28,1.25,1.5,2.01,2.23];
const p8ObsV = [-.1,.02,-.39,-.28,-.31,-.11,-.06,-.58,-.27,-.08,-.01,.01,-.03,.01,.07,.01,-.06,-.19,.04,.1,0,.09,-.1,-.13,-.29,-.34,-.46,-.1,-.24,-.37];

// ---- F16/F18
const p9Blue = [
  [-.06,.0,-.02,-.12,-.25,-.45,-.7,-.75,-.1,.38,.4,.22,.05,-.1,-.25,-.4,-.5,-.45,-.2,.0],
  [-.1,-.02,-.05,-.15,-.28,-.45,-.72,-.78,-.2,.18,.22,.15,.02,-.12,-.28,-.45,-.6,-.6,-.4,-.15],
  [-.12,-.05,-.07,-.16,-.27,-.42,-.62,-.68,-.2,.14,.17,.12,.0,-.13,-.3,-.48,-.65,-.7,-.55,-.3],
  [-.15,-.08,-.1,-.17,-.26,-.38,-.53,-.58,-.18,.11,.14,.1,-.02,-.15,-.32,-.5,-.68,-.75,-.6,-.35],
  [-.18,-.1,-.12,-.18,-.25,-.34,-.46,-.5,-.17,.08,.11,.08,-.03,-.16,-.33,-.52,-.7,-.78,-.65,-.42],
  [-.2,-.13,-.14,-.19,-.24,-.31,-.4,-.43,-.16,.05,.08,.06,-.04,-.17,-.32,-.48,-.62,-.68,-.55,-.35],
  [-.22,-.16,-.16,-.2,-.24,-.29,-.35,-.37,-.15,.03,.06,.04,-.05,-.17,-.3,-.44,-.55,-.58,-.45,-.25],
  [-.25,-.2,-.2,-.22,-.25,-.28,-.32,-.33,-.15,.02,.04,.03,-.05,-.16,-.28,-.4,-.5,-.5,-.35,-.15],
  [-.28,-.22,-.22,-.23,-.25,-.27,-.3,-.3,-.15,.0,.02,.01,-.06,-.15,-.26,-.36,-.45,-.42,-.28,-.1],
  [-.32,-.26,-.25,-.25,-.27,-.29,-.31,-.3,-.17,-.03,.0,-.01,-.07,-.15,-.24,-.32,-.4,-.35,-.2,-.05],
  [-.08,.02,.0,-.06,-.12,-.18,-.25,-.27,-.15,-.06,-.05,-.06,-.06,-.05,-.04,-.03,-.02,.0,.04,.08],
  [-.14,-.06,-.08,-.15,-.25,-.38,-.5,-.52,-.3,-.2,-.22,-.25,-.35,-.43,-.46,-.48,-.5,-.48,-.42,-.35],
  [-.1,-.03,-.05,-.14,-.26,-.42,-.6,-.65,-.15,.25,.3,.18,.05,-.1,-.25,-.38,-.5,-.52,-.35,-.1]
];
const p9Magenta = [
  [-.06,-.06,-.07,-.07,-.08,-.08,-.09,-.09,-.1,-.1,-.11,-.11,-.12,-.13,-.13,-.14,-.15,-.15,-.16,-.16],
  [-.08,-.08,-.09,-.09,-.1,-.1,-.11,-.11,-.12,-.12,-.13,-.13,-.14,-.15,-.15,-.16,-.17,-.17,-.18,-.18],
  [-.1,-.1,-.11,-.11,-.12,-.12,-.13,-.13,-.14,-.14,-.15,-.15,-.16,-.17,-.17,-.18,-.19,-.19,-.2,-.2],
  [-.11,-.11,-.12,-.12,-.13,-.13,-.14,-.14,-.15,-.15,-.16,-.16,-.17,-.18,-.18,-.19,-.2,-.2,-.21,-.21],
  [-.18,-.18,-.2,-.28,-.4,-.52,-.55,-.4,-.15,.0,.02,.02,-.05,-.15,-.28,-.4,-.5,-.6,-.7,-.81],
  [-.14,-.14,-.16,-.22,-.3,-.38,-.42,-.3,-.1,.0,.0,-.02,-.08,-.16,-.27,-.38,-.47,-.56,-.65,-.75],
  [-.2,-.2,-.22,-.25,-.28,-.3,-.32,-.25,-.15,-.1,-.12,-.15,-.2,-.26,-.32,-.38,-.44,-.5,-.55,-.6],
  [-.15,-.15,-.16,-.18,-.2,-.21,-.22,-.18,-.14,-.13,-.14,-.15,-.17,-.18,-.19,-.2,-.21,-.22,-.22,-.22]
];
const p9ObsZ = [.12,.15,.28,.37,.38,.4,.42,.44,.42,.44,.47,.49,.52,.53,.55,.56,.57,.53,.65,.69,.71,.77,.8,.81,.84,.84,.85,.85,.84,.87,.94,.96,1.01,1.03,1.03,1.23,1.5,2.01,2.6];
const p9ObsV = [.04,-.01,-.05,-.06,-.08,-.03,.06,.08,-.06,-.05,-.01,-.08,-.1,.01,.03,-.14,-.06,-.65,.05,-.11,.02,-.04,.16,.07,.22,.1,.08,-.11,-.23,.07,.08,.08,.17,.11,.04,.11,-.55,-.09,-.02];

// ---- F18/F24
const p10Blue = [
  [-.1,-.08,-.06,.0,.05,.1,.1,.02,-.12,-.1,.05,.2,.65,1.3,1.0,.35,.05,-.1,-.15,-.2],
  [-.12,-.1,-.08,-.02,.03,.08,.08,.0,-.15,-.12,.02,.15,.5,1.05,.85,.3,.0,-.15,-.2,-.25],
  [-.15,-.12,-.1,-.05,.0,.05,.05,-.03,-.18,-.15,-.02,.1,.4,.85,.7,.25,-.05,-.2,-.25,-.3],
  [-.18,-.15,-.13,-.08,-.03,.02,.02,-.08,-.22,-.2,-.06,.05,.2,.3,.2,.05,-.1,-.22,-.28,-.32],
  [-.2,-.18,-.16,-.1,-.05,.0,-.02,-.12,-.25,-.23,-.1,.02,.15,.25,.15,.0,-.13,-.25,-.3,-.35],
  [-.22,-.2,-.18,-.12,-.08,-.03,-.05,-.15,-.3,-.27,-.13,.0,.1,.2,.12,-.02,-.15,-.27,-.33,-.38],
  [-.25,-.22,-.2,-.15,-.1,-.05,-.08,-.2,-.35,-.32,-.16,-.02,.08,.15,.1,-.04,-.17,-.3,-.36,-.41],
  [-.28,-.25,-.22,-.17,-.12,-.08,-.1,-.24,-.4,-.36,-.2,-.04,.06,.12,.08,-.05,-.18,-.32,-.38,-.43],
  [-.3,-.28,-.25,-.2,-.15,-.1,-.13,-.28,-.45,-.4,-.22,-.06,.05,.1,.06,-.06,-.2,-.34,-.4,-.45],
  [-.35,-.3,-.27,-.22,-.17,-.12,-.15,-.3,-.46,-.42,-.25,-.08,.02,.08,.04,-.08,-.22,-.36,-.42,-.47],
  [-.59,-.5,-.42,-.32,-.25,-.2,-.22,-.28,-.32,-.32,-.3,-.3,-.3,-.3,-.31,-.32,-.33,-.34,-.33,-.32],
  [-.05,-.03,-.02,.03,.08,.1,.08,.0,-.1,-.08,.0,.05,.08,.1,.1,.08,.05,.05,.07,.1],
  [-.12,-.1,-.08,-.02,.03,.07,.07,-.02,-.16,-.13,.0,.12,.35,.78,.6,.2,-.05,-.18,-.22,-.27],
  [-.08,-.06,-.04,.01,.05,.09,.09,.02,-.1,-.08,.02,.08,.15,.2,.15,.05,-.05,-.12,-.15,-.18]
];
const p10Magenta = [
  [.0,.0,.0,-.01,-.02,-.02,-.03,-.04,-.05,-.06,-.06,-.07,-.08,-.08,-.09,-.09,-.1,-.1,-.11,-.11],
  [-.02,-.02,-.02,-.03,-.04,-.04,-.05,-.06,-.07,-.08,-.08,-.09,-.1,-.1,-.11,-.11,-.12,-.12,-.13,-.13],
  [-.03,-.03,-.03,-.04,-.05,-.05,-.06,-.07,-.08,-.09,-.09,-.1,-.11,-.11,-.12,-.12,-.13,-.13,-.14,-.14],
  [-.04,-.04,-.04,-.05,-.06,-.07,-.08,-.09,-.1,-.1,-.11,-.12,-.12,-.13,-.14,-.14,-.15,-.15,-.16,-.16],
  [-.18,-.19,-.2,-.23,-.27,-.3,-.33,-.36,-.36,-.3,-.15,.0,.15,.25,.1,-.1,-.25,-.33,-.4,-.49],
  [-.13,-.14,-.15,-.18,-.22,-.26,-.29,-.33,-.32,-.27,-.15,-.02,.1,.22,.1,-.07,-.2,-.3,-.36,-.45],
  [-.1,-.11,-.12,-.15,-.18,-.21,-.23,-.25,-.24,-.2,-.14,-.07,.0,.05,.02,-.06,-.16,-.24,-.3,-.38]
];
const p10ObsZ = [.08,.11,.14,.25,.28,.38,.4,.42,.44,.47,.48,.49,.52,.53,.55,.56,.57,.57,.62,.64,.68,.7,.75,.78,.79,.79,.83,.84,.84,.85,.85,.88,.91,.94,.96,.98,1.0,1.02,1.02,1.22,1.25,1.28,1.49,2.01,2.21,2.59];
const p10ObsV = [-.29,-.2,-.2,-.23,-.07,-.08,-.1,-.29,-.18,-.13,.03,0,.1,-.07,-.21,.02,-.05,-.13,-.16,-.33,.1,-.18,-.18,-.11,-.34,-.39,.13,.02,-.16,-.21,-.27,-.23,-.13,-.25,-.14,-.23,-.16,-.02,-.22,.2,.09,.08,.2,-.29,-.31,-.19];

const panels = [
  {num: '3.6', den: '4.5', blue: p1Blue, magenta: p1Magenta, obsZ: p1ObsZ, obsV: p1ObsV},
  {num: '4.5', den: '5.8', blue: p2Blue, magenta: p2Magenta, obsZ: p2ObsZ, obsV: p2ObsV},
  {num: '5.8', den: '8.0', blue: p3Blue, magenta: p3Magenta, obsZ: p3ObsZ, obsV: p3ObsV},
  {num: '8.0', den: '11', blue: p4Blue, magenta: p4Magenta, obsZ: p4ObsZ, obsV: p4ObsV},
  {num: '11', den: '15', blue: p5Blue, magenta: p5Magenta, obsZ: p5ObsZ, obsV: p5ObsV},
  {num: '11', den: '16', blue: p6Blue, magenta: p6Magenta, obsZ: p6ObsZ, obsV: p6ObsV},
  {num: '15', den: '16', blue: p7Blue, magenta: p7Magenta, obsZ: p7ObsZ, obsV: p7ObsV},
  {num: '15', den: '18', blue: p8Blue, magenta: p8Magenta, obsZ: p8ObsZ, obsV: p8ObsV},
  {num: '16', den: '18', blue: p9Blue, magenta: p9Magenta, obsZ: p9ObsZ, obsV: p9ObsV},
  {num: '18', den: '24', blue: p10Blue, magenta: p10Magenta, obsZ: p10ObsZ, obsV: p10ObsV}
];

const panelLeft = [90, 330, 569, 809, 1049];
const panelTop = [3, 233];
const panelW = 232, panelH = 224;
const FONT = '"DejaVu Sans", sans-serif';

function track(vals, color, width) {
  return {
    data: zGrid.map((z, i) => ({x: z, y: vals[i]})),
    showLine: true,
    borderColor: color,
    borderWidth: width,
    pointRadius: 0,
    cubicInterpolationMode: 'monotone'
  };
}

function fmtY(v) {
  if (v === 1) return ['', '1.0'];
  return v < 0 ? '\u2212' + Math.abs(v).toFixed(1) : v.toFixed(1);
}

// frame, inner tick marks and the texts that live round each panel
const framePlugin = {
  id: 'frame',
  afterDatasetsDraw(chart, args, o) {
    const {ctx, chartArea: a} = chart;
    const xs = chart.scales.x, ys = chart.scales.y;
    ctx.save();
    ctx.strokeStyle = '#000';
    ctx.lineWidth = 1.3;
    ctx.beginPath();
    for (let i = 0; i <= 30; i++) {
      const px = xs.getPixelForValue(i / 10);
      const len = i % 5 === 0 ? 7 : 3.5;
      ctx.moveTo(px, a.bottom); ctx.lineTo(px, a.bottom - len);
      ctx.moveTo(px, a.top); ctx.lineTo(px, a.top + len);
    }
    for (let i = -12; i <= 10; i++) {
      const py = ys.getPixelForValue(i / 10);
      const len = i % 5 === 0 ? 7 : 3.5;
      ctx.moveTo(a.left, py); ctx.lineTo(a.left + len, py);
      ctx.moveTo(a.right, py); ctx.lineTo(a.right - len, py);
    }
    ctx.stroke();
    ctx.lineWidth = 2;
    ctx.strokeRect(a.left, a.top, a.right - a.left, a.bottom - a.top);

    // panel label F_num / F_den
    ctx.fillStyle = '#000';
    ctx.textBaseline = 'alphabetic';
    ctx.textAlign = 'left';
    let x = a.left + 117;
    const y = a.top + 45;
    const big = '23px ' + FONT, small = '13px ' + FONT;
    ctx.font = big; ctx.fillText('F', x, y); x += ctx.measureText('F').width - 1;
    ctx.font = small; ctx.fillText(o.num, x, y + 2); x += ctx.measureText(o.num).width + 2;
    ctx.font = big; ctx.fillText('/', x, y); x += ctx.measureText('/').width + 2;
    ctx.fillText('F', x, y); x += ctx.measureText('F').width - 1;
    ctx.font = small; ctx.fillText(o.den, x, y + 2);

    if (o.col === 0) {
      ctx.save();
      ctx.translate(22, (a.top + a.bottom) / 2);
      ctx.rotate(-Math.PI / 2);
      ctx.font = '18px ' + FONT;
      const w1 = ctx.measureText('log').width;
      const w3 = ctx.measureText('(flux ratio)').width;
      ctx.font = '12px ' + FONT;
      const w2 = ctx.measureText('10').width;
      let tx = -(w1 + w2 + w3) / 2;
      ctx.font = '18px ' + FONT;
      ctx.fillText('log', tx, 0); tx += w1;
      ctx.font = '12px ' + FONT;
      ctx.fillText('10', tx, 4); tx += w2;
      ctx.font = '18px ' + FONT;
      ctx.fillText('(flux ratio)', tx, 0);
      ctx.restore();
    }
    if (o.row === 1) {
      ctx.font = '14px ' + FONT;
      ctx.textAlign = 'center';
      ctx.fillText('z', (a.left + a.right) / 2, 496);
    }
    ctx.restore();
  }
};

const wrap = document.getElementById('wrap');
panels.forEach((p, k) => {
  const row = Math.floor(k / 5), col = k % 5;
  const canvas = document.createElement('canvas');
  canvas.width = 1306;
  canvas.height = 503;
  wrap.appendChild(canvas);
  const L = panelLeft[col], T = panelTop[row];
  const yW = col === 0 ? 60 : 1;
  const xH = row === 1 ? 30 : 1;

  const datasets = [];
  datasets.push({
    data: p.obsZ.map((z, i) => ({x: z, y: p.obsV[i]})),
    pointRadius: 3.4,
    pointBackgroundColor: '#000',
    pointBorderWidth: 0,
    showLine: false
  });
  p.magenta.forEach(v => datasets.push(track(v, 'rgba(204,0,204,0.9)', 1.3)));
  p.blue.forEach(v => datasets.push(track(v, 'rgba(105,115,255,0.8)', 1)));

  new Chart(canvas, {
    type: 'scatter',
    data: {datasets},
    options: {
      responsive: false,
      animation: false,
      events: [],
      layout: {padding: {left: L - yW, top: T, right: 1306 - L - panelW, bottom: 503 - T - panelH - xH}},
      plugins: {
        legend: {display: false},
        tooltip: {enabled: false},
        frame: {num: p.num, den: p.den, row, col}
      },
      scales: {
        x: {
          type: 'linear', min: 0, max: 3,
          grid: {display: false, drawTicks: false},
          border: {display: false},
          afterBuildTicks: s => { s.ticks = xTicks.map(v => ({value: v})); },
          ticks: {
            display: row === 1, padding: 9, color: '#000', maxRotation: 0, autoSkip: false,
            font: {family: FONT, size: 14},
            callback: v => (v === 3 && col < 4) ? '' : v.toFixed(1)
          },
          afterFit: s => { s.height = xH; s.paddingLeft = 0; s.paddingRight = 0; }
        },
        y: {
          type: 'linear', min: -1.2, max: 1.0,
          grid: {display: false, drawTicks: false},
          border: {display: false},
          afterBuildTicks: s => { s.ticks = yTicks.map(v => ({value: v})); },
          ticks: {
            display: col === 0, padding: 5, color: '#000',
            font: {family: FONT, size: 18, lineHeight: 1.05},
            callback: fmtY
          },
          afterFit: s => { s.width = yW; s.paddingTop = 0; s.paddingBottom = 0; }
        }
      }
    },
    plugins: [framePlugin]
  });
});
</script>
</body>
</html>
